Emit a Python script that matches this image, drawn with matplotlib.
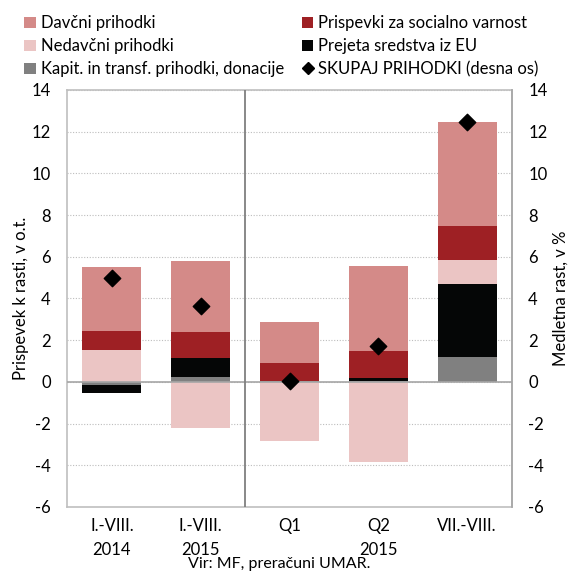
import matplotlib.pyplot as plt
from matplotlib.lines import Line2D
import numpy as np

plt.rcParams['font.family'] = ['Lato', 'DejaVu Sans']
plt.rcParams['axes.unicode_minus'] = False

periods = ['I.-VIII.\n2014', 'I.-VIII.\n2015', 'Q1', 'Q2\n2015', 'VII.-VIII.']
davcni = [3.06, 3.45, 1.96, 4.04, 4.97]
prispevki = [0.90, 1.24, 0.87, 1.30, 1.62]
nedavcni = [1.53, -2.20, -2.85, -3.82, 1.19]
eu = [-0.39, 0.88, 0.02, 0.15, 3.50]
kapit = [-0.15, 0.25, 0.03, 0.05, 1.18]
skupaj = [5.0, 3.63, 0.05, 1.7, 12.45]

# bottom-to-top stacking order
series = [
    (kapit, '#808080', 'Kapit. in transf. prihodki, donacije'),
    (eu, '#050606', 'Prejeta sredstva iz EU'),
    (nedavcni, '#EBC5C4', 'Nedavčni prihodki'),
    (prispevki, '#9E2024', 'Prispevki za socialno varnost'),
    (davcni, '#D48A88', 'Davčni prihodki'),
]

fig = plt.figure(figsize=(5.69, 5.71), dpi=100)
ax = fig.add_axes([0.1186, 0.1121, 0.7804, 0.7303])
x = np.arange(len(periods))
w = 0.665

pos = np.zeros(len(x))
neg = np.zeros(len(x))
bars = {}
for vals, col, lab in series:
    v = np.array(vals)
    base = np.where(v >= 0, pos, neg)
    bars[lab] = ax.bar(x, v, w, bottom=base, color=col, edgecolor='none', zorder=3)
    pos = pos + np.where(v >= 0, v, 0)
    neg = neg + np.where(v < 0, v, 0)

ax.set_xlim(-0.5, 4.5)
ax.set_ylim(-6, 14)
ax.set_yticks(range(-6, 15, 2))
ax.yaxis.grid(True, linestyle=(0, (1, 1.5)), color='#BDBDBD', linewidth=0.8, zorder=0)
ax.axhline(0, color='#A6A6A6', linewidth=1.2, zorder=4)
ax.axvline(1.5, color='#7F7F7F', linewidth=1.3, zorder=4)
ax.set_xticks(x)
ax.set_xticklabels(periods, fontsize=12, linespacing=1.6)
ax.tick_params(length=0, labelsize=12, pad=8)
ax.tick_params(axis='y', pad=12)
for s in ax.spines.values():
    s.set_color('#BFBFBF')
    s.set_linewidth(1.2)
ax.set_ylabel('Prispevek k rasti, v o.t.', fontsize=12, labelpad=2)

ax2 = ax.twinx()
ax2.set_ylim(-6, 14)
ax2.set_yticks(range(-6, 15, 2))
ax2.tick_params(length=0, labelsize=12, pad=12)
ax2.spines['right'].set_color('#A6A6A6')
ax2.spines['right'].set_linewidth(1.2)
for k in ['left', 'top', 'bottom']:
    ax2.spines[k].set_visible(False)
dia = ax2.scatter(x, skupaj, marker='D', s=70, color='black', zorder=5)
ax2.set_ylabel('Medletna rast, v %', fontsize=12, labelpad=4)

dia_h = Line2D([], [], marker='D', markersize=6, color='black', linestyle='none')
handles = [bars['Davčni prihodki'], bars['Nedavčni prihodki'],
           bars['Kapit. in transf. prihodki, donacije'],
           bars['Prispevki za socialno varnost'], bars['Prejeta sredstva iz EU'], dia_h]
labels = ['Davčni prihodki', 'Nedavčni prihodki', 'Kapit. in transf. prihodki, donacije',
          'Prispevki za socialno varnost', 'Prejeta sredstva iz EU', 'SKUPAJ PRIHODKI (desna os)']
fig.legend(handles, labels, ncol=2, loc='upper left', bbox_to_anchor=(0.028, 0.988),
           frameon=False, fontsize=12, handlelength=0.7, handleheight=0.7,
           handletextpad=0.3, columnspacing=1.05, labelspacing=0.42, borderpad=0)

fig.text(0.49, 0.0, 'Vir: MF, preračuni UMAR.', ha='center', va='bottom', fontsize=11.5)

fig.savefig('out.png', dpi=100)
